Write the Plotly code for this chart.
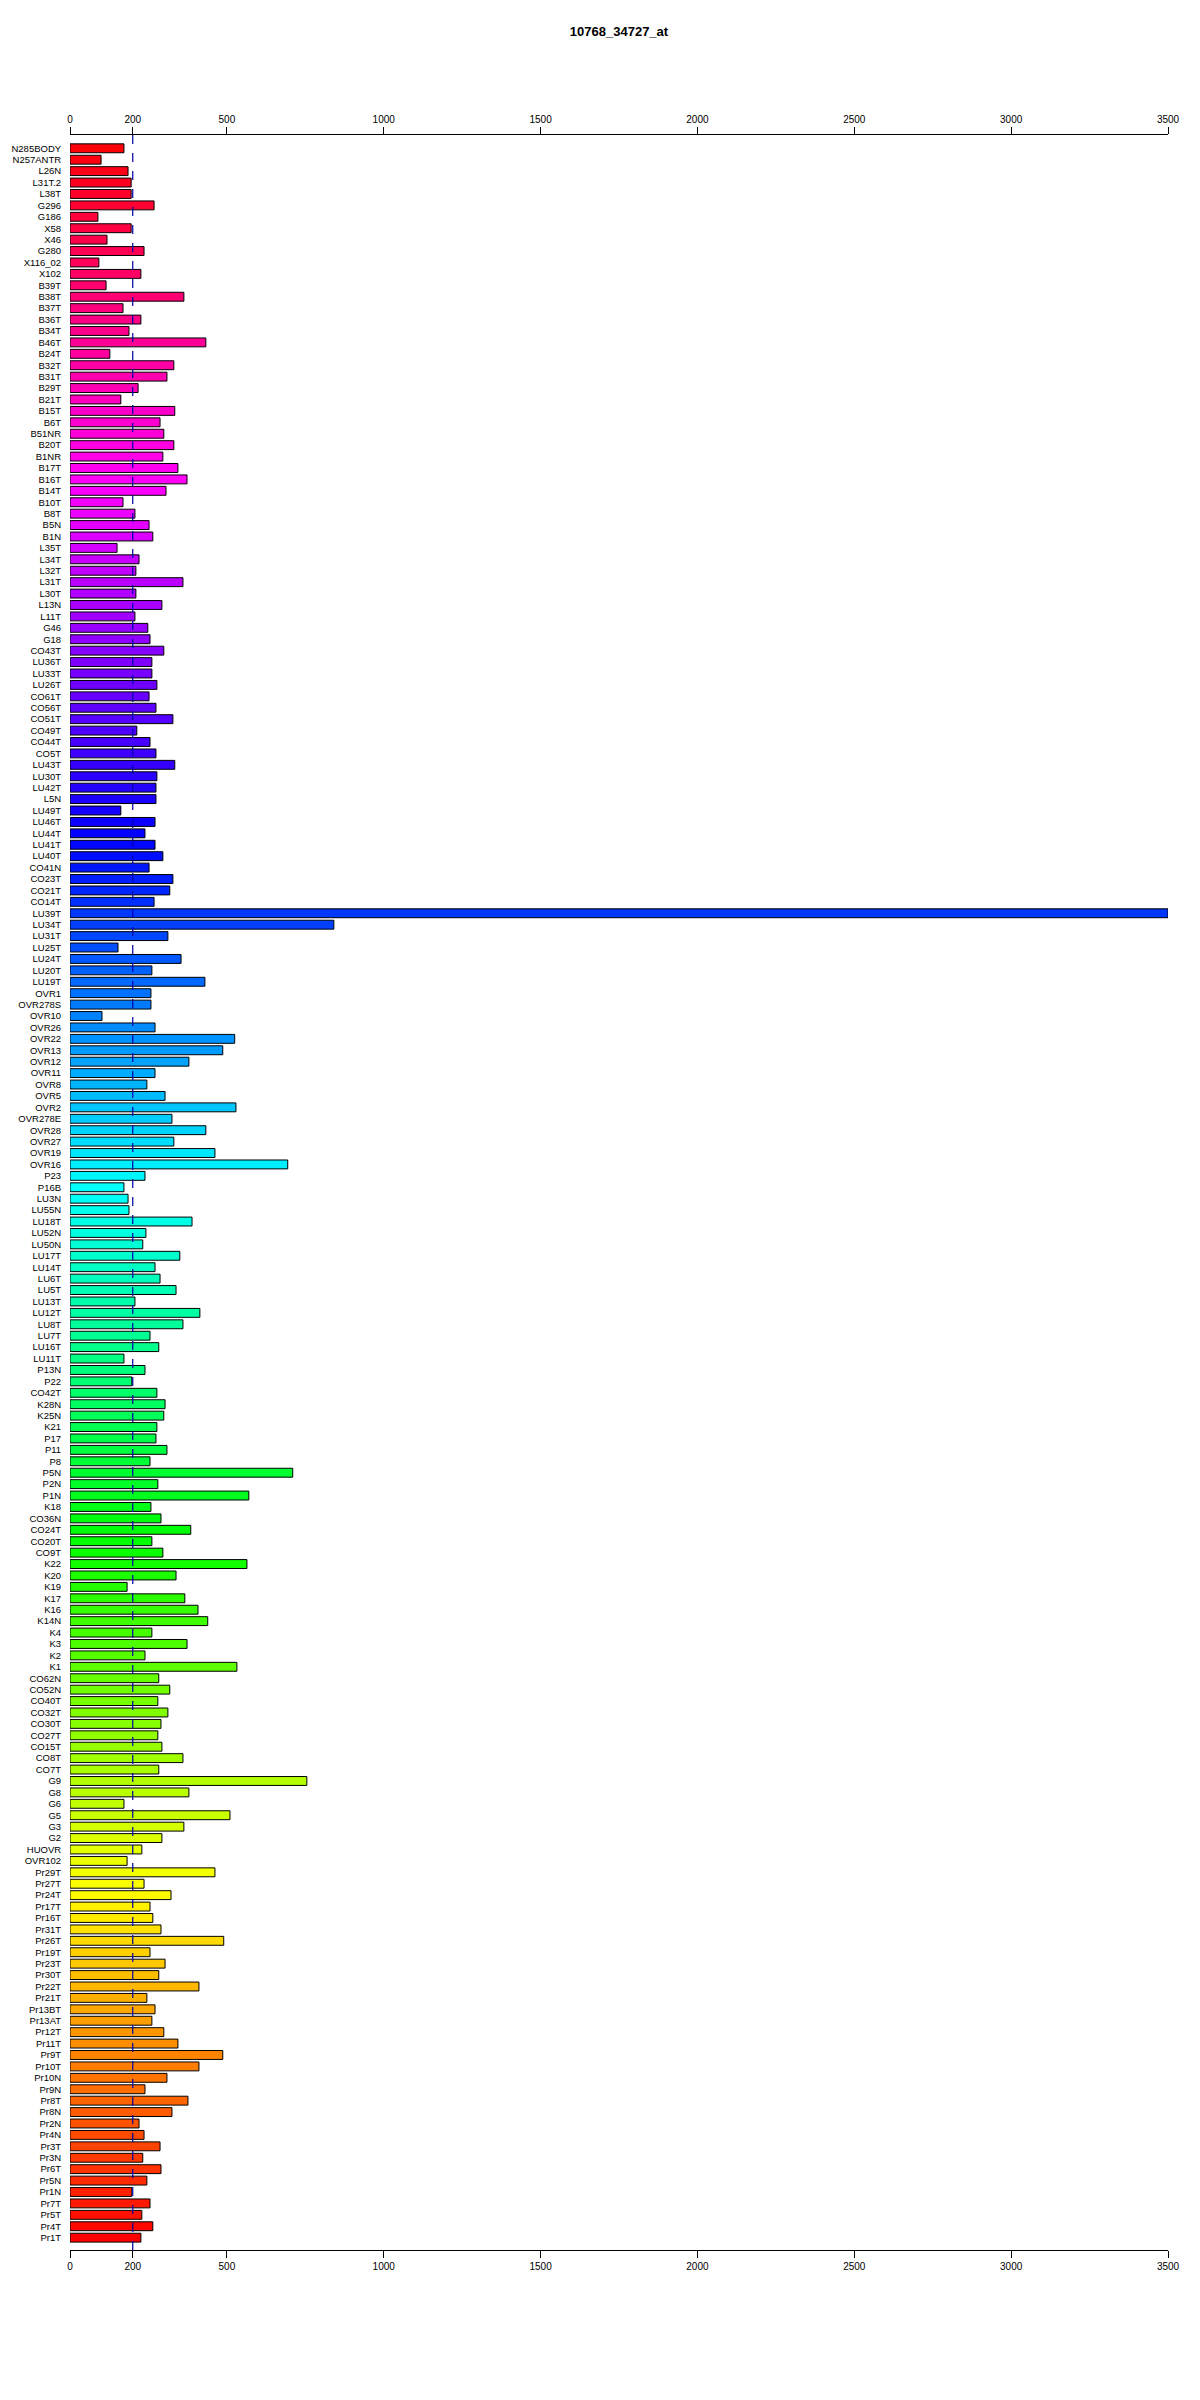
import colorsys
import plotly.graph_objects as go

title = "10768_34727_at"

labels = [
    "N285BODY", "N257ANTR", "L26N", "L31T.2", "L38T", "G296", "G186", "X58", "X46", "G280",
    "X116_02", "X102", "B39T", "B38T", "B37T",
    "B36T", "B34T", "B46T", "B24T", "B32T", "B31T", "B29T", "B21T", "B15T", "B6T",
    "B51NR", "B20T", "B1NR", "B17T", "B16T",
    "B14T", "B10T", "B8T", "B5N", "B1N", "L35T", "L34T", "L32T", "L31T", "L30T",
    "L13N", "L11T", "G46", "G18", "CO43T", "LU36T",
    "LU33T", "LU26T", "CO61T", "CO56T", "CO51T", "CO49T", "CO44T", "CO5T", "LU43T", "LU30T",
    "LU42T", "L5N", "LU49T", "LU46T", "LU44T",
    "LU41T", "LU40T", "CO41N", "CO23T", "CO21T", "CO14T", "LU39T", "LU34T", "LU31T", "LU25T",
    "LU24T", "LU20T", "LU19T", "OVR1", "OVR278S",
    "OVR10", "OVR26", "OVR22", "OVR13", "OVR12", "OVR11", "OVR8", "OVR5", "OVR2", "OVR278E",
    "OVR28", "OVR27", "OVR19", "OVR16", "P23",
    "P16B", "LU3N", "LU55N", "LU18T", "LU52N", "LU50N", "LU17T", "LU14T", "LU6T", "LU5T",
    "LU13T", "LU12T", "LU8T", "LU7T", "LU16T", "LU11T",
    "P13N", "P22", "CO42T", "K28N", "K25N", "K21", "P17", "P11", "P8", "P5N",
    "P2N", "P1N", "K18", "CO36N", "CO24T",
    "CO20T", "CO9T", "K22", "K20", "K19", "K17", "K16", "K14N", "K4", "K3",
    "K2", "K1", "CO62N", "CO52N", "CO40T", "CO32T",
    "CO30T", "CO27T", "CO15T", "CO8T", "CO7T", "G9", "G8", "G6", "G5", "G3",
    "G2", "HUOVR", "OVR102", "Pr29T", "Pr27T",
    "Pr24T", "Pr17T", "Pr16T", "Pr31T", "Pr26T", "Pr19T", "Pr23T", "Pr30T", "Pr22T", "Pr21T",
    "Pr13BT", "Pr13AT", "Pr12T", "Pr11T", "Pr9T",
    "Pr10T", "Pr10N", "Pr9N", "Pr8T", "Pr8N", "Pr2N", "Pr4N", "Pr3T", "Pr3N", "Pr6T",
    "Pr5N", "Pr1N", "Pr7T", "Pr5T", "Pr4T", "Pr1T",
]

values = [
    172, 99, 185, 195, 195, 268, 89, 195, 118, 236,
    92, 226, 115, 363, 169,
    226, 188, 433, 127, 331, 309, 217, 162, 334, 287,
    299, 331, 296, 344, 373,
    306, 169, 207, 252, 264, 150, 220, 210, 360, 210,
    293, 207, 248, 255, 299, 261,
    261, 277, 252, 274, 328, 213, 255, 274, 334, 277,
    274, 274, 162, 271, 239,
    271, 296, 252, 328, 318, 268, 3500, 841, 312, 153,
    354, 261, 430, 258, 258,
    102, 271, 525, 487, 379, 271, 245, 303, 529, 325,
    433, 331, 462, 694, 239,
    172, 185, 188, 389, 242, 232, 350, 271, 287, 338,
    207, 414, 360, 255, 283, 172,
    239, 197, 277, 303, 299, 277, 274, 309, 255, 710,
    280, 570, 258, 290, 385,
    261, 296, 564, 338, 182, 366, 408, 439, 261, 373,
    239, 532, 283, 318, 280, 312,
    290, 280, 293, 360, 283, 755, 379, 172, 510, 363,
    293, 229, 182, 462, 236,
    322, 255, 264, 290, 490, 255, 303, 283, 411, 245,
    271, 261, 299, 344, 487,
    411, 309, 239, 376, 325, 220, 236, 287, 232, 290,
    245, 197, 255, 229, 264, 226,
]

x_ticks = [0, 200, 500, 1000, 1500, 2000, 2500, 3000, 3500]
ref_line = 200

n = len(labels)


def rainbow_color(k):
    h = (n - 1 - k) / n
    r, g, b = colorsys.hsv_to_rgb(h, 1.0, 1.0)
    return "rgb(%d,%d,%d)" % (round(r * 255), round(g * 255), round(b * 255))


colors = [rainbow_color(k) for k in range(n)]

fig = go.Figure()
fig.add_trace(go.Bar(
    x=values, y=labels, orientation="h",
    marker=dict(color=colors, line=dict(color="black", width=1)),
    showlegend=False, hoverinfo="x+y",
))
# invisible trace to show the top axis
fig.add_trace(go.Scatter(
    x=[0, 3500], y=[labels[0], labels[0]], xaxis="x2", mode="markers",
    marker=dict(opacity=0), showlegend=False, hoverinfo="skip",
))

fig.add_shape(type="line", xref="x", yref="paper", x0=ref_line, x1=ref_line,
              y0=0, y1=1, layer="above",
              line=dict(color="#0000A8", width=1.2, dash="dash"))

axis_common = dict(
    range=[0, 3500], tickmode="array", tickvals=x_ticks,
    ticktext=[str(t) for t in x_ticks], automargin=False,
    showgrid=False, zeroline=False, showline=True, linecolor="black", linewidth=1,
    ticks="outside", ticklen=7, tickcolor="black", tickwidth=1,
    tickfont=dict(family="Liberation Sans, Arial", size=10, color="black"),
)

fig.update_layout(
    width=1200, height=2400,
    paper_bgcolor="white", plot_bgcolor="white",
    margin=dict(l=62, r=40, t=127, b=158, autoexpand=False),
    title=dict(text="<b>" + title + "</b>", x=611 / 1200, xanchor="center",
               y=1 - 23 / 2400, yanchor="middle",
               font=dict(family="Liberation Sans, Arial", size=13, color="black")),
    bargap=0.22,
    xaxis=dict(side="bottom", **axis_common),
    xaxis2=dict(side="top", overlaying="x", **axis_common),
    yaxis=dict(
        type="category", categoryorder="array", categoryarray=labels,
        tickmode="array", tickvals=labels, ticktext=labels, automargin=False,
        range=[n - 1 + 1.08, -1.165],
        showgrid=False, zeroline=False, showline=False,
        ticks="outside", ticklen=6, tickcolor="rgba(0,0,0,0)",
        tickfont=dict(family="Liberation Sans, Arial", size=9.5, color="black"),
    ),
    font=dict(family="Liberation Sans, Arial", size=10, color="black"),
)

fig.write_html("out.html")
